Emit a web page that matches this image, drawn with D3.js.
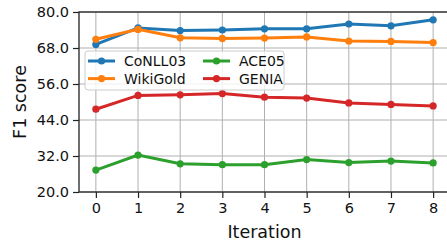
<!DOCTYPE html>
<html>
<head>
<meta charset="utf-8">
<script src="https://cdn.jsdelivr.net/npm/d3@7"></script>
<style>
  body { margin: 0; background: #fff; }
  svg { display: block; font-family: "DejaVu Sans", sans-serif; }
</style>
</head>
<body>
<svg id="chart" width="447" height="244"></svg>
<script>
// data
const iterations = [0, 1, 2, 3, 4, 5, 6, 7, 8];
const yTicks = [20, 32, 44, 56, 68, 80];
const seriesNames = ["CoNLL03", "WikiGold", "ACE05", "GENIA"];
const seriesColors = ["#1f77b4", "#ff7f0e", "#2ca02c", "#d62728"];
const conll03 = [69.2, 74.7, 73.8, 74.0, 74.4, 74.4, 76.0, 75.4, 77.4];
const wikigold = [70.9, 74.2, 71.4, 71.2, 71.3, 71.7, 70.3, 70.2, 69.8];
const ace05 = [27.3, 32.3, 29.4, 29.1, 29.1, 30.8, 29.8, 30.3, 29.7];
const genia = [47.6, 52.2, 52.4, 52.8, 51.6, 51.3, 49.7, 49.2, 48.7];
const allSeries = [conll03, wikigold, ace05, genia];

let svg = d3.select("#chart");

let margin = { left: 79, top: 12, right: -3, bottom: 52 };
let width = 447 - margin.left - margin.right,
    height = 244 - margin.top - margin.bottom;

let g = svg.append("g")
    .attr("transform", "translate(" + margin.left + "," + margin.top + ")");

let x = d3.scaleLinear().domain([-0.4, 8.4]).range([0, width]);
let y = d3.scaleLinear().domain([20, 80]).range([height, 0]);

// grid
g.append("g").selectAll("line").data(iterations).enter().append("line")
    .attr("x1", d => x(d)).attr("x2", d => x(d))
    .attr("y1", 0).attr("y2", height)
    .attr("stroke", "#b0b0b0").attr("stroke-width", 1);
g.append("g").selectAll("line").data(yTicks).enter().append("line")
    .attr("x1", 0).attr("x2", width)
    .attr("y1", d => y(d)).attr("y2", d => y(d))
    .attr("stroke", "#b0b0b0").attr("stroke-width", 1);

// axes
let xAxis = g.append("g")
    .attr("transform", "translate(0," + height + ")")
    .call(d3.axisBottom(x).tickValues(iterations).tickSize(6).tickPadding(5).tickFormat(d3.format("d")));
let yAxis = g.append("g")
    .call(d3.axisLeft(y).tickValues(yTicks).tickSize(6).tickPadding(4).tickFormat(d3.format(".1f")));

[xAxis, yAxis].forEach(function (a) {
    a.select(".domain").remove();
    a.selectAll("line").attr("stroke", "#222").attr("stroke-width", 1.2);
    a.selectAll("text").attr("fill", "#111").style("font-size", "14.5px")
        .style("font-family", "'DejaVu Sans', sans-serif");
});

// spines
g.append("rect")
    .attr("x", 0).attr("y", 0).attr("width", width).attr("height", height)
    .attr("fill", "none").attr("stroke", "#222").attr("stroke-width", 1.3);

// lines
let line = d3.line().x((d, i) => x(iterations[i])).y(d => y(d));

allSeries.forEach(function (vals, k) {
    let s = g.append("g");
    s.append("path")
        .datum(vals)
        .attr("d", line)
        .attr("fill", "none")
        .attr("stroke", seriesColors[k])
        .attr("stroke-width", 3);
    s.selectAll("circle").data(vals).enter().append("circle")
        .attr("cx", (d, i) => x(iterations[i]))
        .attr("cy", d => y(d))
        .attr("r", 3.6)
        .attr("fill", seriesColors[k]);
});

// legend
let legend = g.append("g").attr("transform", "translate(6,39)");
legend.append("rect")
    .attr("width", 199).attr("height", 39).attr("rx", 3)
    .attr("fill", "#fff").attr("fill-opacity", 0.8)
    .attr("stroke", "#ccc").attr("stroke-width", 1);

seriesNames.forEach(function (name, k) {
    let col = Math.floor(k / 2), row = k % 2;
    let item = legend.append("g")
        .attr("transform", "translate(" + (3 + col * 115) + "," + (10 + row * 17.6) + ")");
    item.append("line")
        .attr("x1", 0).attr("x2", 27)
        .attr("stroke", seriesColors[k]).attr("stroke-width", 3);
    item.append("circle").attr("cx", 13.5).attr("r", 3.6).attr("fill", seriesColors[k]);
    item.append("text")
        .attr("x", 36).attr("dy", "0.36em")
        .style("font-size", "14px").attr("fill", "#111")
        .text(name);
});

// axis labels
svg.append("text")
    .attr("x", margin.left + x(4)).attr("y", 238)
    .attr("text-anchor", "middle")
    .style("font-size", "17.5px").attr("fill", "#111")
    .text("Iteration");

svg.append("text")
    .attr("transform", "translate(26," + (margin.top + height / 2) + ") rotate(-90)")
    .attr("text-anchor", "middle")
    .style("font-size", "17.5px").attr("fill", "#111")
    .text("F1 score");
</script>
</body>
</html>
